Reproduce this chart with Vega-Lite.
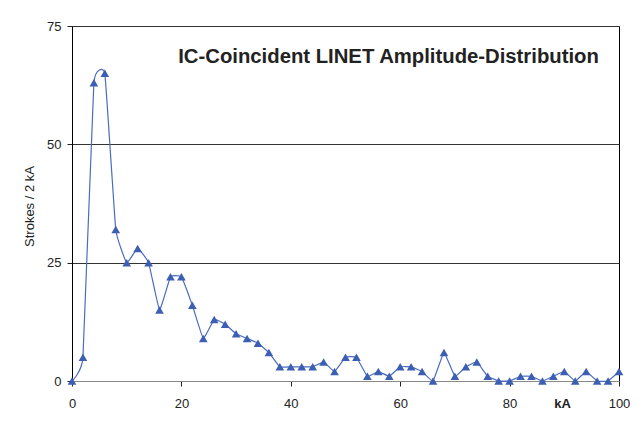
{
  "$schema": "https://vega.github.io/schema/vega-lite/v6.json",
  "width": 547,
  "height": 355,
  "autosize": {"type": "none"},
  "padding": {"left": 72, "top": 26, "right": 21, "bottom": 45},
  "background": "white",
  "title": {
    "text": "IC-Coincident LINET Amplitude-Distribution",
    "anchor": "end",
    "orient": "top",
    "offset": -47,
    "dx": -31,
    "font": "Liberation Sans",
    "fontSize": 20.3,
    "fontWeight": "bold",
    "color": "#222222"
  },
  "config": {
    "view": {"stroke": "#000000", "strokeWidth": 1},
    "axis": {
      "labelFont": "Liberation Sans",
      "labelFontSize": 13,
      "labelColor": "#222222",
      "titleFont": "Liberation Sans",
      "titleColor": "#222222",
      "labelFlush": false
    }
  },
  "data": {
    "values": [
      {"kA": 0, "strokes": 0}, {"kA": 2, "strokes": 5}, {"kA": 4, "strokes": 63},
      {"kA": 6, "strokes": 65}, {"kA": 8, "strokes": 32}, {"kA": 10, "strokes": 25},
      {"kA": 12, "strokes": 28}, {"kA": 14, "strokes": 25}, {"kA": 16, "strokes": 15},
      {"kA": 18, "strokes": 22}, {"kA": 20, "strokes": 22}, {"kA": 22, "strokes": 16},
      {"kA": 24, "strokes": 9}, {"kA": 26, "strokes": 13}, {"kA": 28, "strokes": 12},
      {"kA": 30, "strokes": 10}, {"kA": 32, "strokes": 9}, {"kA": 34, "strokes": 8},
      {"kA": 36, "strokes": 6}, {"kA": 38, "strokes": 3}, {"kA": 40, "strokes": 3},
      {"kA": 42, "strokes": 3}, {"kA": 44, "strokes": 3}, {"kA": 46, "strokes": 4},
      {"kA": 48, "strokes": 2}, {"kA": 50, "strokes": 5}, {"kA": 52, "strokes": 5},
      {"kA": 54, "strokes": 1}, {"kA": 56, "strokes": 2}, {"kA": 58, "strokes": 1},
      {"kA": 60, "strokes": 3}, {"kA": 62, "strokes": 3}, {"kA": 64, "strokes": 2},
      {"kA": 66, "strokes": 0}, {"kA": 68, "strokes": 6}, {"kA": 70, "strokes": 1},
      {"kA": 72, "strokes": 3}, {"kA": 74, "strokes": 4}, {"kA": 76, "strokes": 1},
      {"kA": 78, "strokes": 0}, {"kA": 80, "strokes": 0}, {"kA": 82, "strokes": 1},
      {"kA": 84, "strokes": 1}, {"kA": 86, "strokes": 0}, {"kA": 88, "strokes": 1},
      {"kA": 90, "strokes": 2}, {"kA": 92, "strokes": 0}, {"kA": 94, "strokes": 2},
      {"kA": 96, "strokes": 0}, {"kA": 98, "strokes": 0}, {"kA": 100, "strokes": 2}
    ]
  },
  "encoding": {
    "x": {
      "field": "kA",
      "type": "quantitative",
      "scale": {"domain": [0, 100], "nice": false},
      "axis": {
        "values": [0, 20, 40, 60, 80, 100],
        "grid": false,
        "domainColor": "#888888",
        "tickColor": "#222222",
        "tickSize": 5,
        "labelPadding": 11,
        "title": "kA",
        "titleFontWeight": "bold",
        "titleFontSize": 13,
        "titleX": 490,
        "titleY": 22,
        "titleAlign": "center",
        "titleBaseline": "middle"
      }
    },
    "y": {
      "field": "strokes",
      "type": "quantitative",
      "scale": {"domain": [0, 75], "nice": false},
      "axis": {
        "values": [0, 25, 50, 75],
        "grid": true,
        "gridColor": "#333333",
        "gridOpacity": 1,
        "domainColor": "#000000",
        "tickColor": "#222222",
        "tickSize": 5,
        "labelPadding": 6,
        "title": "Strokes / 2 kA",
        "titleFontWeight": "normal",
        "titleFontSize": 13,
        "titleAngle": -90,
        "titleX": -43,
        "titleY": 180,
        "titleAlign": "center",
        "titleBaseline": "middle"
      }
    }
  },
  "layer": [
    {
      "mark": {"type": "line", "interpolate": "cardinal", "tension": 0.7, "color": "#4a6cbf", "strokeWidth": 1.2}
    },
    {
      "mark": {"type": "point", "shape": "triangle-up", "filled": true, "color": "#3d5fb3", "opacity": 1, "size": 75}
    }
  ]
}
